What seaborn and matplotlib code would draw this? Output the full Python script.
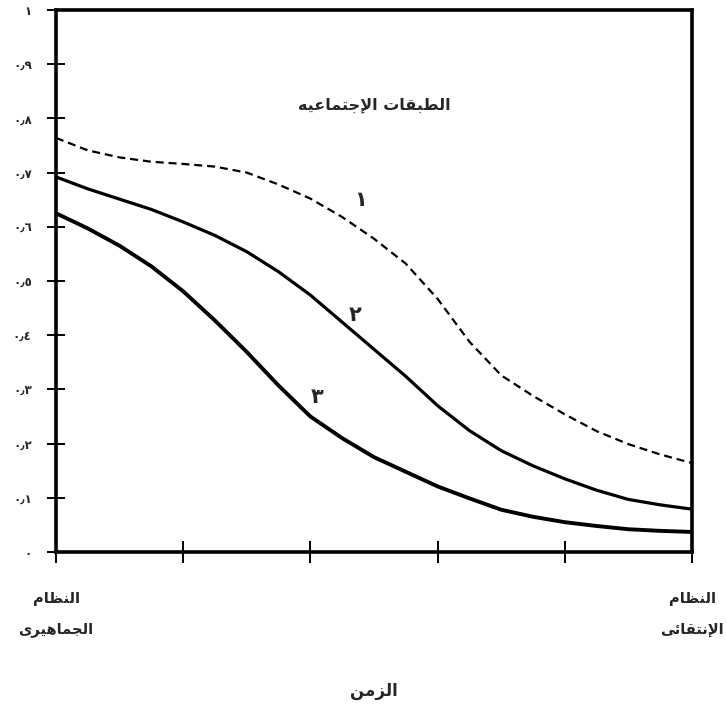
import pandas as pd
import seaborn as sns
import matplotlib.pyplot as plt

# curve samples, x = time steps 0..5
time_x = [0, 0.25, 0.5, 0.75, 1, 1.25, 1.5, 1.75, 2, 2.25, 2.5, 2.75, 3, 3.25,
          3.5, 3.75, 4, 4.25, 4.5, 4.75, 5]
class_1 = [0.764, 0.741, 0.728, 0.720, 0.716, 0.711, 0.700, 0.678, 0.652, 0.618,
           0.578, 0.532, 0.467, 0.388, 0.326, 0.288, 0.254, 0.223, 0.199, 0.180, 0.164]
class_2 = [0.692, 0.670, 0.651, 0.632, 0.609, 0.584, 0.554, 0.517, 0.474, 0.424,
           0.374, 0.324, 0.270, 0.224, 0.187, 0.159, 0.135, 0.114, 0.097, 0.087, 0.079]
class_3 = [0.625, 0.597, 0.565, 0.527, 0.481, 0.427, 0.369, 0.307, 0.250, 0.210,
           0.175, 0.148, 0.121, 0.099, 0.078, 0.065, 0.055, 0.048, 0.042, 0.039, 0.037]

y_ticks = [0, 0.1, 0.2, 0.3, 0.4, 0.5, 0.6, 0.7, 0.8, 0.9, 1]
y_labels = ["٠", "٠٫١", "٠٫٢", "٠٫٣", "٠٫٤", "٠٫٥", "٠٫٦", "٠٫٧", "٠٫٨", "٠٫٩", "١"]
x_ticks = [0, 1, 2, 3, 4, 5]
x_labels = ["النظام\nالجماهيرى", "", "", "", "", "النظام\nالإنتقائى"]
curve_names = ["١", "٢", "٣"]
title_text = "الطبقات الإجتماعيه"
xlabel_text = "الزمن"

# matplotlib has no arabic shaping, so map letters to presentation forms
FORMS = {
    "ا": ("\ufe8d", "\ufe8e", None, None),
    "إ": ("\ufe87", "\ufe88", None, None),
    "ر": ("\ufead", "\ufeae", None, None),
    "ز": ("\ufeaf", "\ufeb0", None, None),
    "ى": ("\ufeef", "\ufef0", None, None),
    "ل": ("\ufedd", "\ufede", "\ufedf", "\ufee0"),
    "ط": ("\ufec1", "\ufec2", "\ufec3", "\ufec4"),
    "ظ": ("\ufec5", "\ufec6", "\ufec7", "\ufec8"),
    "ب": ("\ufe8f", "\ufe90", "\ufe91", "\ufe92"),
    "ق": ("\ufed5", "\ufed6", "\ufed7", "\ufed8"),
    "ت": ("\ufe95", "\ufe96", "\ufe97", "\ufe98"),
    "ج": ("\ufe9d", "\ufe9e", "\ufe9f", "\ufea0"),
    "م": ("\ufee1", "\ufee2", "\ufee3", "\ufee4"),
    "ع": ("\ufec9", "\ufeca", "\ufecb", "\ufecc"),
    "ي": ("\ufef1", "\ufef2", "\ufef3", "\ufef4"),
    "ه": ("\ufee9", "\ufeea", "\ufeeb", "\ufeec"),
    "ن": ("\ufee5", "\ufee6", "\ufee7", "\ufee8"),
    "ئ": ("\ufe89", "\ufe8a", "\ufe8b", "\ufe8c"),
}
LAM_ALEF = {"ا": ("\ufefb", "\ufefc"), "إ": ("\ufef9", "\ufefa")}


def joins_next(ch):
    return ch in FORMS and FORMS[ch][2] is not None


def shape_line(s):
    out = []
    i = 0
    while i < len(s):
        ch = s[i]
        if ch not in FORMS:
            out.append(ch)
            i += 1
            continue
        jp = i > 0 and joins_next(s[i - 1])
        if ch == "ل" and i + 1 < len(s) and s[i + 1] in LAM_ALEF:
            out.append(LAM_ALEF[s[i + 1]][1 if jp else 0])
            i += 2
            continue
        jn = joins_next(ch) and i + 1 < len(s) and s[i + 1] in FORMS
        iso, fin, ini, med = FORMS[ch]
        out.append(med if jp and jn else fin if jp else ini if jn else iso)
        i += 1
    return "".join(reversed(out))


def shape(text):
    return "\n".join(shape_line(line) for line in text.split("\n"))


sns.set_theme(style="ticks")
plt.rcParams["font.family"] = ["DejaVu Sans"]

df = pd.DataFrame({"x": time_x, "c1": class_1, "c2": class_2, "c3": class_3})

fig = plt.figure(figsize=(7.26, 7.09), dpi=100)
fig.subplots_adjust(left=56 / 726, right=692 / 726, bottom=1 - 552 / 709, top=1 - 10 / 709)
ax = fig.add_subplot(111)

sns.lineplot(data=df, x="x", y="c1", ax=ax, color="black", lw=1.6,
             linestyle=(0, (3.6, 2.2)), dash_capstyle="butt")
sns.lineplot(data=df, x="x", y="c2", ax=ax, color="black", lw=2.3,
             solid_joinstyle="round")
sns.lineplot(data=df, x="x", y="c3", ax=ax, color="black", lw=2.8,
             solid_joinstyle="round")

ax.set_xlim(0, 5)
ax.set_ylim(0, 1)
ax.set_yticks(y_ticks, y_labels)
ax.set_xticks(x_ticks, [shape(t) for t in x_labels])
for lbl in ax.get_xticklabels():
    lbl.set_linespacing(2.3)
ax.tick_params(axis="y", direction="inout", length=13, width=1.4, pad=11,
               labelsize=8.5, color="black")
ax.tick_params(axis="x", direction="inout", length=16, width=1.4, pad=20,
               labelsize=10.5, color="black")
for lbl in ax.get_yticklabels() + ax.get_xticklabels():
    lbl.set_fontweight("bold")

for side in ["left", "right", "top", "bottom"]:
    ax.spines[side].set_visible(True)
    ax.spines[side].set_color("black")
    ax.spines[side].set_linewidth(2.6)

ax.set_xlabel(shape(xlabel_text), fontsize=12, fontweight="bold", labelpad=32)
ax.set_ylabel("")

ax.text(2.5, 0.825, shape(title_text), ha="center", va="center", fontsize=11.5,
        fontweight="bold")
ax.text(2.39, 0.649, curve_names[0], ha="center", va="center", fontsize=15, fontweight="bold")
ax.text(2.35, 0.437, curve_names[1], ha="center", va="center", fontsize=15, fontweight="bold")
ax.text(2.05, 0.286, curve_names[2], ha="center", va="center", fontsize=15, fontweight="bold")

fig.savefig("out.png", dpi=100)
